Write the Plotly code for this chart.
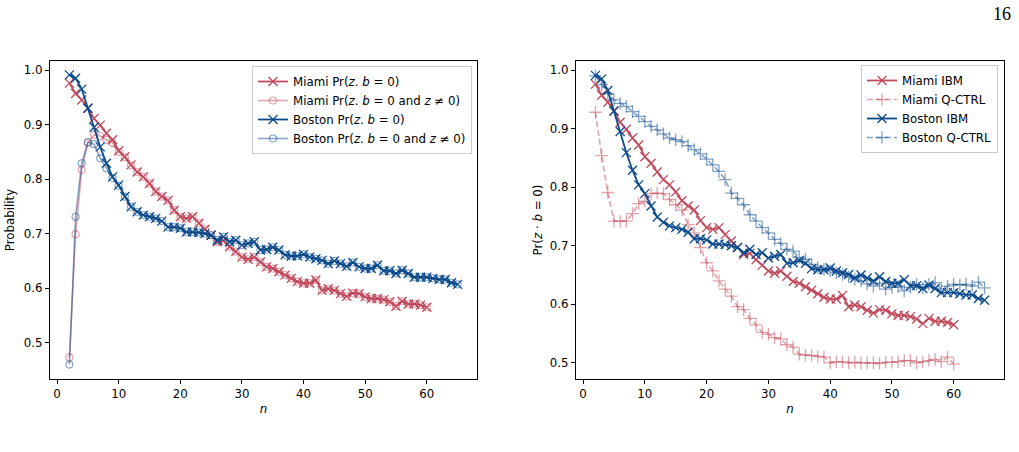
import plotly.graph_objects as go

# ---------------- data ----------------
n_miami = list(range(2, 61))
n_boston = list(range(2, 66))

miami_ibm = [0.976, 0.957, 0.945, 0.930, 0.911, 0.899, 0.884, 0.872, 0.852, 0.841,
             0.826, 0.813, 0.804, 0.792, 0.777, 0.768, 0.761, 0.743, 0.731, 0.728,
             0.731, 0.719, 0.708, 0.697, 0.685, 0.687, 0.676, 0.667, 0.657, 0.653,
             0.657, 0.648, 0.639, 0.636, 0.630, 0.624, 0.618, 0.612, 0.609, 0.609,
             0.615, 0.596, 0.599, 0.596, 0.590, 0.585, 0.591, 0.590, 0.584, 0.581,
             0.581, 0.579, 0.575, 0.567, 0.576, 0.571, 0.571, 0.569, 0.565]

miami_nz = [0.473, 0.699, 0.817, 0.866, 0.881, 0.879, 0.872, 0.866, 0.850, 0.840,
            0.825, 0.813, 0.804, 0.792, 0.777, 0.768, 0.761, 0.743, 0.731, 0.728,
            0.731, 0.719, 0.708, 0.697, 0.685, 0.687, 0.676, 0.667, 0.657, 0.653,
            0.657, 0.648, 0.639, 0.636, 0.630, 0.624, 0.618, 0.612, 0.609, 0.609,
            0.615, 0.596, 0.599, 0.596, 0.590, 0.585, 0.591, 0.590, 0.584, 0.581,
            0.581, 0.579, 0.575, 0.567, 0.576, 0.571, 0.571, 0.569, 0.565]

boston_ibm = [0.991, 0.985, 0.965, 0.930, 0.895, 0.859, 0.829, 0.804, 0.789, 0.768,
              0.749, 0.740, 0.734, 0.731, 0.728, 0.723, 0.712, 0.712, 0.710, 0.703,
              0.703, 0.702, 0.700, 0.697, 0.688, 0.694, 0.685, 0.688, 0.679, 0.682,
              0.685, 0.670, 0.671, 0.675, 0.670, 0.661, 0.659, 0.659, 0.662, 0.657,
              0.654, 0.651, 0.645, 0.650, 0.645, 0.640, 0.647, 0.639, 0.636, 0.636,
              0.642, 0.632, 0.632, 0.627, 0.633, 0.627, 0.620, 0.620, 0.620, 0.618,
              0.616, 0.616, 0.610, 0.607]

boston_nz = [0.460, 0.731, 0.829, 0.868, 0.864, 0.838, 0.820, 0.802, 0.788, 0.768,
             0.749, 0.740, 0.734, 0.731, 0.728, 0.723, 0.712, 0.712, 0.710, 0.703,
             0.703, 0.702, 0.700, 0.697, 0.688, 0.694, 0.685, 0.688, 0.679, 0.682,
             0.685, 0.670, 0.671, 0.675, 0.670, 0.661, 0.659, 0.659, 0.662, 0.657,
             0.654, 0.651, 0.645, 0.650, 0.645, 0.640, 0.647, 0.639, 0.636, 0.636,
             0.642, 0.632, 0.632, 0.627, 0.633, 0.627, 0.620, 0.620, 0.620, 0.618,
             0.616, 0.616, 0.610, 0.607]

miami_qctrl = [0.928, 0.854, 0.791, 0.742, 0.742, 0.742, 0.755, 0.772, 0.776, 0.789,
               0.790, 0.789, 0.779, 0.770, 0.761, 0.736, 0.722, 0.697, 0.671, 0.657,
               0.640, 0.626, 0.614, 0.596, 0.591, 0.576, 0.565, 0.552, 0.549, 0.543,
               0.541, 0.531, 0.527, 0.515, 0.513, 0.513, 0.511, 0.510, 0.500, 0.502,
               0.502, 0.500, 0.501, 0.500, 0.500, 0.500, 0.499, 0.501, 0.501, 0.502,
               0.504, 0.504, 0.500, 0.502, 0.504, 0.506, 0.502, 0.510, 0.498]

boston_qctrl = [0.990, 0.975, 0.960, 0.949, 0.943, 0.938, 0.929, 0.921, 0.912, 0.904,
                0.898, 0.891, 0.884, 0.881, 0.878, 0.871, 0.864, 0.857, 0.848, 0.838,
                0.827, 0.813, 0.790, 0.781, 0.770, 0.753, 0.742, 0.731, 0.722, 0.711,
                0.704, 0.694, 0.691, 0.680, 0.677, 0.668, 0.663, 0.660, 0.657, 0.654,
                0.651, 0.647, 0.643, 0.640, 0.635, 0.631, 0.636, 0.626, 0.629, 0.631,
                0.623, 0.629, 0.634, 0.628, 0.634, 0.637, 0.626, 0.631, 0.634, 0.633,
                0.634, 0.631, 0.638, 0.628]

x_ticks = [0, 10, 20, 30, 40, 50, 60]
y_ticks_left = [0.5, 0.6, 0.7, 0.8, 0.9, 1.0]
y_ticks_right = [0.5, 0.6, 0.7, 0.8, 0.9, 1.0]

# ---------------- style ----------------
RED = "#c24a5d"
BLUE = "#0b4a8b"
RED_L = "rgba(194,74,93,0.5)"
BLUE_L = "rgba(11,74,139,0.5)"
FONT = "DejaVu Sans"
FS = 11.8
LFS = 11.8

fig = go.Figure()

def ibm(x, y, color, name, xa, ya, legend):
    return go.Scatter(x=x, y=y, mode="lines+markers", name=name, xaxis=xa, yaxis=ya,
                      legend=legend,
                      line=dict(color=color, width=1.8),
                      marker=dict(symbol="x-thin", size=9, color=color,
                                  line=dict(color=color, width=1.3)))

# left panel
fig.add_trace(ibm(n_miami, miami_ibm, RED, "Miami Pr(<i>z</i>. <i>b</i> = 0)", "x", "y", "legend"))
fig.add_trace(go.Scatter(x=n_miami, y=miami_nz, mode="lines+markers",
                         name="Miami Pr(<i>z</i>. <i>b</i> = 0 and <i>z</i> ≠ 0)",
                         xaxis="x", yaxis="y", legend="legend",
                         line=dict(color=RED_L, width=1.6),
                         marker=dict(symbol="circle-open", size=7, color=RED_L,
                                     line=dict(color=RED_L, width=1.2))))
fig.add_trace(ibm(n_boston, boston_ibm, BLUE, "Boston Pr(<i>z</i>. <i>b</i> = 0)", "x", "y", "legend"))
fig.add_trace(go.Scatter(x=n_boston, y=boston_nz, mode="lines+markers",
                         name="Boston Pr(<i>z</i>. <i>b</i> = 0 and <i>z</i> ≠ 0)",
                         xaxis="x", yaxis="y", legend="legend",
                         line=dict(color=BLUE_L, width=1.6),
                         marker=dict(symbol="circle-open", size=7, color=BLUE_L,
                                     line=dict(color=BLUE_L, width=1.2))))

# right panel
fig.add_trace(ibm(n_miami, miami_ibm, RED, "Miami IBM", "x2", "y2", "legend2"))
fig.add_trace(go.Scatter(x=n_miami, y=miami_qctrl, mode="lines+markers", name="Miami Q-CTRL",
                         xaxis="x2", yaxis="y2", legend="legend2",
                         line=dict(color=RED_L, width=1.6, dash="6px,3px"),
                         marker=dict(symbol="cross-thin", size=9, color=RED_L,
                                     line=dict(color=RED_L, width=1.3))))
fig.add_trace(ibm(n_boston, boston_ibm, BLUE, "Boston IBM", "x2", "y2", "legend2"))
fig.add_trace(go.Scatter(x=n_boston, y=boston_qctrl, mode="lines+markers", name="Boston Q-CTRL",
                         xaxis="x2", yaxis="y2", legend="legend2",
                         line=dict(color=BLUE_L, width=1.6, dash="6px,3px"),
                         marker=dict(symbol="cross-thin", size=9, color=BLUE_L,
                                     line=dict(color=BLUE_L, width=1.3))))

W, H = 1019, 452
def px_x(p): return p / W
def px_y(p): return 1 - p / H

axis_common = dict(showline=True, linecolor="black", linewidth=1, mirror=True,
                   ticks="outside", ticklen=4, tickwidth=1, tickcolor="black",
                   showgrid=False, zeroline=False,
                   tickfont=dict(family=FONT, size=FS, color="black"))

fig.update_layout(
    width=W, height=H, margin=dict(l=0, r=0, t=0, b=0),
    paper_bgcolor="white", plot_bgcolor="white",
    font=dict(family=FONT, size=FS, color="black"),
    xaxis=dict(domain=[px_x(50), px_x(477)], anchor="y", range=[-1.15, 68.15],
               tickvals=x_ticks, title=dict(text="<i>n</i>", standoff=4,
                                            font=dict(family=FONT, size=FS)),
               **axis_common),
    yaxis=dict(domain=[px_y(379), px_y(61)], anchor="x", range=[0.4335, 1.0165],
               tickvals=y_ticks_left, tickformat=".1f",
               title=dict(text="Probability", standoff=6, font=dict(family=FONT, size=FS)),
               **axis_common),
    xaxis2=dict(domain=[px_x(576), px_x(1004)], anchor="y2", range=[-1.15, 68.15],
                tickvals=x_ticks, title=dict(text="<i>n</i>", standoff=4,
                                             font=dict(family=FONT, size=FS)),
                **axis_common),
    yaxis2=dict(domain=[px_y(379), px_y(61)], anchor="x2", range=[0.4725, 1.0155],
                tickvals=y_ticks_right, tickformat=".1f",
                title=dict(text="Pr(<i>z</i> · <i>b</i> = 0)", standoff=4,
                           font=dict(family=FONT, size=FS)),
                **axis_common),
    legend=dict(x=px_x(472), y=px_y(66), xanchor="right", yanchor="top",
                bgcolor="rgba(255,255,255,0.8)", bordercolor="#cccccc", borderwidth=1,
                font=dict(family=FONT, size=LFS), tracegroupgap=0, itemwidth=30),
    legend2=dict(x=px_x(998), y=px_y(65), xanchor="right", yanchor="top",
                 bgcolor="rgba(255,255,255,0.8)", bordercolor="#cccccc", borderwidth=1,
                 font=dict(family=FONT, size=LFS), tracegroupgap=0, itemwidth=30),
    showlegend=True,
    annotations=[dict(text="16", x=px_x(1013), y=px_y(14), xref="paper", yref="paper",
                      xanchor="right", yanchor="middle", showarrow=False,
                      font=dict(family="Liberation Serif", size=18, color="black"))],
)

fig.write_html("out.html")
